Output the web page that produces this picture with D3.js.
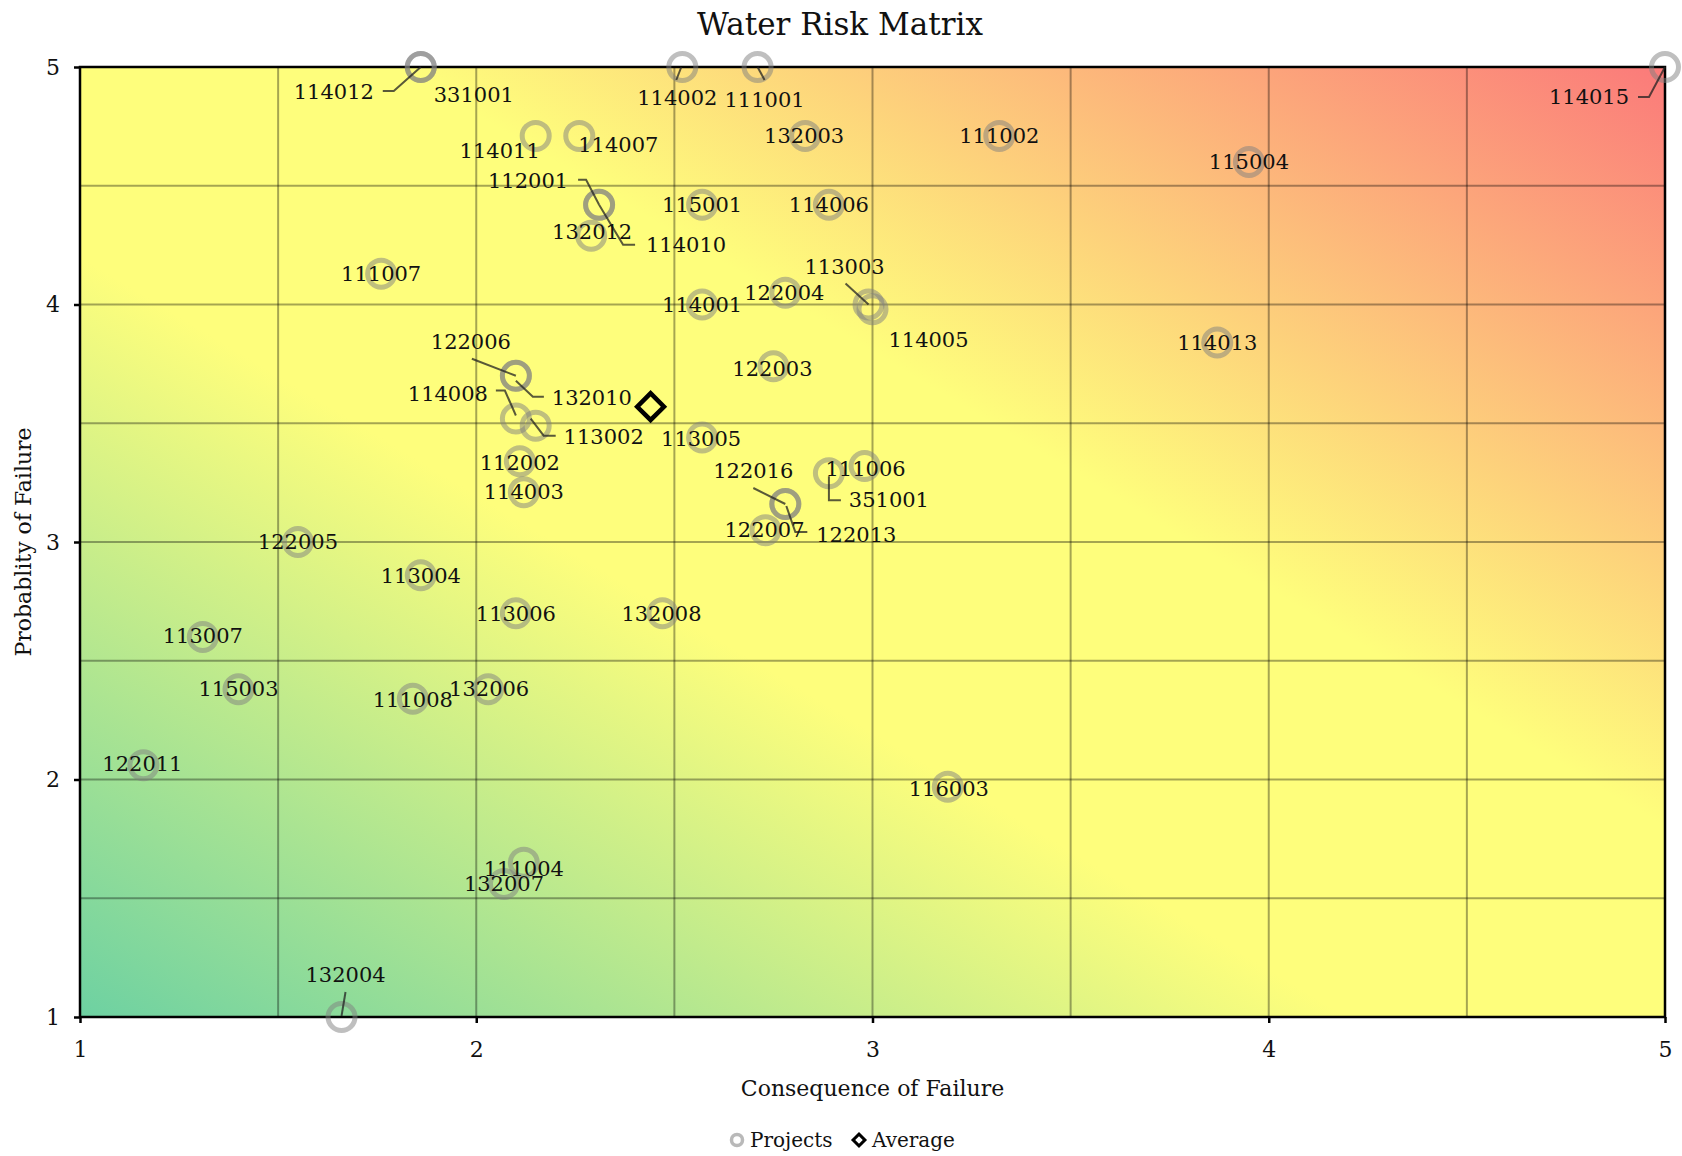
<!DOCTYPE html>
<html>
<head>
<meta charset="utf-8">
<script src="https://cdn.jsdelivr.net/npm/d3@7"></script>
<style>
  body { margin: 0; background: #fff; }
  text { font-family: "DejaVu Serif", serif; fill: #111; }
</style>
</head>
<body>
<svg></svg>
<script>
// data
const projectIds = [
  '114012', '331001', '114002', '111001', '114015', '114011', '114007', '132003',
  '111002', '115004', '112001', '114010', '132012', '115001', '114006', '111007',
  '114001', '122004', '113003', '114005', '114013', '122003', '122006', '132010',
  '114008', '113002', '112002', '114003', '113005', '122016', '122013', '122007',
  '111006', '351001', '122005', '113004', '113006', '132008', '113007', '115003',
  '111008', '132006', '122011', '116003', '111004', '132007', '132004'
];
const consequence = [
  1.86, 1.86, 2.52, 2.71, 5.00, 2.15, 2.26, 2.83,
  3.32, 3.95, 2.31, 2.31, 2.29, 2.57, 2.89, 1.76,
  2.57, 2.78, 2.99, 3.00, 3.87, 2.75, 2.10, 2.10,
  2.10, 2.15, 2.11, 2.12, 2.57, 2.78, 2.78, 2.73,
  2.98, 2.89, 1.55, 1.86, 2.10, 2.47, 1.31, 1.40,
  1.84, 2.03, 1.16, 3.19, 2.12, 2.07, 1.66
];
const probability = [
  5.00, 5.00, 5.00, 5.00, 5.00, 4.71, 4.71, 4.71,
  4.71, 4.60, 4.42, 4.42, 4.29, 4.42, 4.42, 4.13,
  4.00, 4.05, 4.00, 3.98, 3.84, 3.74, 3.70, 3.70,
  3.52, 3.49, 3.34, 3.21, 3.44, 3.16, 3.16, 3.05,
  3.32, 3.29, 3.00, 2.86, 2.70, 2.70, 2.60, 2.38,
  2.34, 2.38, 2.06, 1.97, 1.65, 1.56, 1.00
];
const averageValue = [2.44, 3.57];
const xTicks = [1, 2, 3, 4, 5];
const yTicks = [1, 2, 3, 4, 5];
const gridValues = [1.5, 2, 2.5, 3, 3.5, 4, 4.5];

// label placement (pixel offsets from the marker) and leader lines
const labelOffsets = {
  '114012': [-87, 25], '331001': [53, 28], '114002': [-5, 31], '111001': [7, 33],
  '114015': [-76, 30], '114011': [-36, 15], '114007': [39, 9], '132003': [-1, 0],
  '111002': [0, 0], '115004': [0, 0], '112001': [-71, -24], '114010': [87, 40],
  '132012': [1, -4], '115001': [0, 0], '114006': [0, 0], '111007': [0, 0],
  '114001': [0, 0], '122004': [-1, 0], '113003': [-24, -38], '114005': [56, 30],
  '114013': [0, 0], '122003': [-1, 2], '122006': [-45, -34], '132010': [76, 22],
  '114008': [-68, -25], '113002': [68, 11], '112002': [0, 1], '114003': [0, 0],
  '113005': [-1, 1], '122016': [-32, -33], '122013': [71, 31], '122007': [-1, 0],
  '111006': [1, 3], '351001': [60, 27], '122005': [0, 0], '113004': [0, 0],
  '113006': [0, 0], '132008': [-1, 0], '113007': [0, -1], '115003': [0, -1],
  '111008': [0, 1], '132006': [1, -1], '122011': [-1, -2], '116003': [1, 2],
  '111004': [0, 6], '132007': [0, 0], '132004': [4, -42]
};
const leaders = {
  '114012': [[-38, 24], [-27, 24], [0, 0]],
  '114002': [[-6, 13], [-1, 0]],
  '111001': [[0, 0], [7, 13]],
  '114015': [[-27, 30], [-16, 30], [0, 0]],
  '112001': [[-21, -25], [-13, -25], [0, 0]],
  '114010': [[36, 40], [24, 40], [0, 0]],
  '113003': [[-23, -21], [0, 0]],
  '122006': [[-44, -17], [0, 0]],
  '132010': [[28, 21], [17, 21], [0, 5]],
  '114008': [[-20, -28], [-11, -28], [0, -3]],
  '113002': [[20, 10], [8, 10], [-5, -7]],
  '122016': [[-32, -16], [0, 0]],
  '122013': [[22, 28], [10, 28], [1, 2]],
  '351001': [[12, 27], [0, 27], [0, 3]],
  '132004': [[4, -25], [0, -1]]
};

const points = projectIds.map((id, i) => ({ id, x: consequence[i], y: probability[i] }));

const svg = d3.select('svg')
    .attr('width', 1682)
    .attr('height', 1156);

const x = d3.scaleLinear().domain([1, 5]).range([80, 1665]);
const y = d3.scaleLinear().domain([1, 5]).range([1017, 67]);

// gradient background
const grad = svg.append('defs').append('linearGradient')
    .attr('id', 'risk')
    .attr('x1', 0).attr('y1', 1)
    .attr('x2', 1).attr('y2', 0);
grad.append('stop').attr('offset', '0%').attr('stop-color', '#6dd1a2');
grad.append('stop').attr('offset', '40%').attr('stop-color', '#fefe7c');
grad.append('stop').attr('offset', '60%').attr('stop-color', '#fefe7c');
grad.append('stop').attr('offset', '100%').attr('stop-color', '#fb7a7a');

svg.append('rect')
    .attr('x', x(1))
    .attr('y', y(5))
    .attr('width', x(5) - x(1))
    .attr('height', y(1) - y(5))
    .attr('fill', 'url(#risk)');

// gridlines
svg.append('g').selectAll('line')
  .data(gridValues)
  .join('line')
    .attr('x1', d => x(d)).attr('x2', d => x(d))
    .attr('y1', y(1)).attr('y2', y(5))
    .attr('stroke', '#000').attr('stroke-opacity', 0.35).attr('stroke-width', 2);

svg.append('g').selectAll('line')
  .data(gridValues)
  .join('line')
    .attr('x1', x(1)).attr('x2', x(5))
    .attr('y1', d => y(d)).attr('y2', d => y(d))
    .attr('stroke', '#000').attr('stroke-opacity', 0.35).attr('stroke-width', 2);

// axes
const xAxis = svg.append('g')
    .attr('transform', `translate(0,${y(1)})`)
    .call(d3.axisBottom(x).tickValues(xTicks).tickFormat(d3.format('d')).tickSize(6).tickPadding(18));
const yAxis = svg.append('g')
    .attr('transform', `translate(${x(1)},0)`)
    .call(d3.axisLeft(y).tickValues(yTicks).tickFormat(d3.format('d')).tickSize(6).tickPadding(14));

[xAxis, yAxis].forEach(a => {
  a.select('.domain').remove();
  a.selectAll('line').attr('stroke', '#000').attr('stroke-width', 2.5);
  a.selectAll('text').attr('font-size', 22).attr('fill', '#111')
      .style('font-family', '"DejaVu Serif", serif');
});

svg.append('rect')
    .attr('x', x(1))
    .attr('y', y(5))
    .attr('width', x(5) - x(1))
    .attr('height', y(1) - y(5))
    .attr('fill', 'none')
    .attr('stroke', '#000')
    .attr('stroke-width', 2.5);

// project markers
svg.append('g').selectAll('circle')
  .data(points)
  .join('circle')
    .attr('cx', d => x(d.x))
    .attr('cy', d => y(d.y))
    .attr('r', 13.5)
    .attr('fill', 'none')
    .attr('stroke', '#7f7f7f')
    .attr('stroke-opacity', 0.5)
    .attr('stroke-width', 5);

// average marker
const diamond = d3.symbol().type(d3.symbolSquare).size(360);
svg.append('path')
    .attr('d', diamond())
    .attr('transform', `translate(${x(averageValue[0])},${y(averageValue[1])}) rotate(45)`)
    .attr('fill', 'none')
    .attr('stroke', '#000')
    .attr('stroke-width', 4.5);

// leader lines
const line = d3.line();
svg.append('g').selectAll('path')
  .data(points.filter(d => leaders[d.id]))
  .join('path')
    .attr('d', d => line(leaders[d.id].map(p => [x(d.x) + p[0], y(d.y) + p[1]])))
    .attr('fill', 'none')
    .attr('stroke', '#222')
    .attr('stroke-opacity', 0.75)
    .attr('stroke-width', 2);

// labels
svg.append('g').selectAll('text')
  .data(points)
  .join('text')
    .attr('x', d => x(d.x) + labelOffsets[d.id][0])
    .attr('y', d => y(d.y) + labelOffsets[d.id][1])
    .attr('dy', '0.35em')
    .attr('text-anchor', 'middle')
    .attr('font-size', 21)
    .text(d => d.id);

// titles
svg.append('text')
    .attr('x', 840)
    .attr('y', 35)
    .attr('text-anchor', 'middle')
    .attr('font-size', 31)
    .text('Water Risk Matrix');

svg.append('text')
    .attr('x', (x(1) + x(5)) / 2)
    .attr('y', 1096)
    .attr('text-anchor', 'middle')
    .attr('font-size', 22)
    .text('Consequence of Failure');

svg.append('text')
    .attr('transform', `translate(31,${(y(1) + y(5)) / 2}) rotate(-90)`)
    .attr('text-anchor', 'middle')
    .attr('font-size', 22)
    .text('Probablity of Failure');

// legend
const legend = svg.append('g').attr('transform', 'translate(737,1140)');
legend.append('circle')
    .attr('r', 5.5)
    .attr('fill', 'none')
    .attr('stroke', '#7f7f7f')
    .attr('stroke-opacity', 0.55)
    .attr('stroke-width', 3.5);
legend.append('text')
    .attr('x', 13)
    .attr('dy', '0.35em')
    .attr('font-size', 20)
    .text('Projects');
legend.append('path')
    .attr('d', d3.symbol().type(d3.symbolSquare).size(70)())
    .attr('transform', 'translate(122,0) rotate(45)')
    .attr('fill', '#fff')
    .attr('stroke', '#000')
    .attr('stroke-width', 3);
legend.append('text')
    .attr('x', 135)
    .attr('dy', '0.35em')
    .attr('font-size', 20)
    .text('Average');
</script>
</body>
</html>
